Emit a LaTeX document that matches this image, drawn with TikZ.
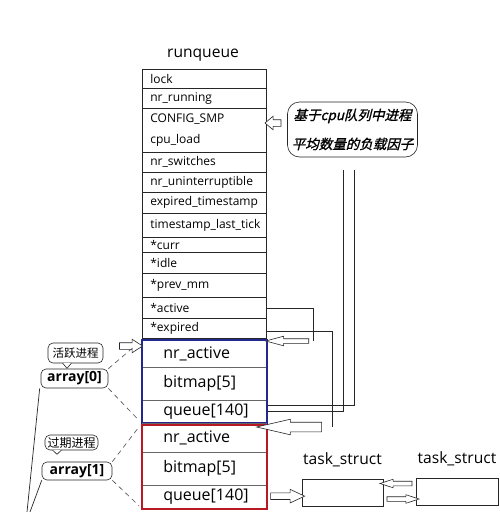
\documentclass[tikz,border=0pt]{standalone}
\usepackage{fontspec}
\setmainfont{Open Sans}
\newfontfamily\cjk{Noto Sans CJK SC}
\newfontfamily\cjkit[FakeSlant=0.25,FakeBold=1.2]{Noto Sans CJK SC}
\usetikzlibrary{shapes.arrows,calc}
\definecolor{arrblue}{RGB}{35,40,145}
\definecolor{arrred}{RGB}{185,25,35}
\tikzset{
  rqrow/.style={draw=black!85, line width=0.7pt, rectangle, anchor=north west,
    minimum width=124pt, text width=108pt, inner xsep=8pt, inner ysep=0pt,
    align=left, font=\fontsize{12}{21}\selectfont},
  arow/.style={draw=black!60, line width=0.6pt, rectangle, anchor=north west,
    minimum width=124pt, text width=82pt, inner xsep=21pt, inner ysep=0pt,
    align=left, font=\fontsize{16}{18}\selectfont},
  harrow/.style 2 args={shape=single arrow, draw=black!85, fill=white, line width=0.6pt,
    inner xsep=0pt, inner ysep=#1, single arrow head extend=#2},
  tbox/.style={draw=black!85, line width=0.7pt, rectangle, inner sep=0pt},
  ttl/.style={font=\fontsize{15.6}{18}\selectfont, inner sep=0pt},
  bubble/.style={draw=black!85, line width=0.6pt, rounded corners=5pt, fill=white, inner sep=0pt},
  conn/.style={draw=black!85, line width=0.7pt},
  dconn/.style={draw=black!70, line width=0.6pt, dash pattern=on 5pt off 4pt},
}
\begin{document}
\begin{tikzpicture}[x=1pt,y=-1pt]
\path[use as bounding box, fill=white] (0,0) rectangle (500,512);

% runqueue
\node[ttl] (title) at (203,55) {runqueue};
\node[rqrow, minimum height=19pt] (lock) at (142,69) {lock};
\node[rqrow, minimum height=20pt] (nrrun) at (142,88) {nr\_running};
\node[rqrow, minimum height=44pt] (smp) at (142,108) {CONFIG\_SMP\\cpu\_load};
\node[rqrow, minimum height=20pt] (nrsw) at (142,152) {nr\_switches};
\node[rqrow, minimum height=20pt] (nrun) at (142,172) {nr\_uninterruptible};
\node[rqrow, minimum height=21pt] (exts) at (142,192) {expired\_timestamp};
\node[rqrow, minimum height=24pt] (tslt) at (142,213) {timestamp\_last\_tick};
\node[rqrow, minimum height=15pt] (curr) at (142,237) {*curr};
\node[rqrow, minimum height=21pt] (idle) at (142,252) {*idle};
\node[rqrow, minimum height=24pt] (prevmm) at (142,273) {*prev\_mm};
\node[rqrow, minimum height=21pt] (active) at (142,297) {*active};
\node[rqrow, minimum height=20pt] (expired) at (142,318) {*expired};

% active array (blue)
\node[arow, minimum height=27pt] (b1) at (142,340) {nr\_active};
\node[arow, minimum height=33pt] (b2) at (142,367) {bitmap[5]};
\node[arow, minimum height=23pt] (b3) at (142,400) {queue[140]};
\draw[arrblue, line width=2pt] (b1.north west) rectangle ($(b3.south east)+(0,-1)$);

% expired array (red)
\node[arow, minimum height=29pt] (r1) at (142,423) {nr\_active};
\node[arow, minimum height=33pt] (r2) at (142,452) {bitmap[5]};
\node[arow, minimum height=23pt] (r3) at (142,485) {queue[140]};
\draw[arrred, line width=2pt] ($(r1.north west)+(0,1.5)$) rectangle (r3.south east);

% callout on the right
\node[draw=black!85, line width=0.6pt, rounded corners=12pt, minimum width=130pt,
  minimum height=55pt, inner sep=0pt, align=center,
  font=\cjkit\fontsize{13.5}{29}\selectfont] (cb) at (352.5,129.5)
  {基于cpu队列中进程\\平均数量的负载因子};
\node[harrow={3pt}{3.5pt}, shape border rotate=180, minimum height=16pt,
  single arrow tip angle=80] (a1) at (275,123) {};

% long vertical lines to queue[140]
\coordinate (v1) at (343,170);
\coordinate (v2) at (354,170);
\draw[conn] (v1) |- (b3.east);
\draw[conn] (v2) |- ($(b3.east)+(0,-6)$);

% *active pointer
\coordinate (acturn) at (313,341);
\draw[conn] (active.east) -| (acturn);
\node[harrow={2pt}{2.5pt}, shape border rotate=180, minimum height=43pt,
  single arrow tip angle=30] (a3) at (291.5,341) {};

% *expired pointer
\coordinate (exturn) at (332,427);
\draw[conn] ($(expired.east)+(0,3)$) -| (exturn);
\node[harrow={4.5pt}{3pt}, shape border rotate=180, minimum height=65pt,
  single arrow tip angle=26] (a4) at (299.5,427) {};

% task structs
\node[ttl] (t1l) at (342.5,460) {task\_struct};
\node[ttl] (t2l) at (457,459) {task\_struct};
\node[tbox, minimum width=81pt, minimum height=27pt] (t1) at (342.5,492.5) {};
\node[tbox, minimum width=82pt, minimum height=27pt] (t2) at (457,491.5) {};
\node[harrow={3pt}{3.5pt}, minimum height=34pt, single arrow tip angle=50]
  (a5) at ($(r3.east)!0.5!(t1.west)+(0,1.5)$) {};
\node[harrow={2pt}{2pt}, shape border rotate=180, minimum height=32pt,
  single arrow tip angle=36]
  (a6) at ($(t1.east)!0.5!(t2.west)+(0,-8.5)$) {};
\node[harrow={2pt}{2pt}, minimum height=32pt, single arrow tip angle=36]
  (a7) at ($(t1.east)!0.5!(t2.west)+(0,7)$) {};

% left labels
\node[bubble, minimum width=55pt, minimum height=20pt, font=\cjk\fontsize{11.5}{14}\selectfont]
  (lbl0) at (75.5,353) {活跃进程};
\draw[line width=0.6pt, draw=black!85, fill=white]
  ($(lbl0.south)+(-13,-0.3)$) -- ($(lbl0.south)+(-8.5,5)$) -- ($(lbl0.south)+(-4,-0.3)$);
\node[bubble, minimum width=67pt, minimum height=19pt, font=\bfseries\fontsize{14}{16}\selectfont]
  (arr0) at (74.5,378.5) {array[0]};
\node[harrow={3pt}{3.5pt}, minimum height=23pt, single arrow tip angle=66]
  (a2) at (128.5,346) {};

\node[bubble, minimum width=53pt, minimum height=15pt, font=\cjk\fontsize{12}{14}\selectfont]
  (lbl1) at (71.5,442.5) {过期进程};
\draw[line width=0.6pt, draw=black!85, fill=white]
  ($(lbl1.south)+(-19,-0.3)$) -- ($(lbl1.south)+(-14.5,4)$) -- ($(lbl1.south)+(-10,-0.3)$);
\node[bubble, minimum width=70pt, minimum height=18pt, font=\bfseries\fontsize{14}{16}\selectfont]
  (arr1) at (77,471) {array[1]};

% dashed links
\draw[dconn, shorten >=10pt] (arr0.north east) -- (b1.north west);
\draw[dconn, shorten >=6pt] (arr0.south east) -- (b3.south west);
\draw[dconn, shorten >=4pt] (arr1.north east) -- (r1.north west);
\draw[dconn, shorten >=4pt] (arr1.south east) -- (r3.south west);

% lines running off the bottom
\coordinate (f0) at (27,512);
\coordinate (f1) at (30,512);
\draw[conn] ($(arr0.south west)+(-1,0)$) -- (f0);
\draw[conn] (arr1.south west) -- (f1);
\end{tikzpicture}
\end{document}
